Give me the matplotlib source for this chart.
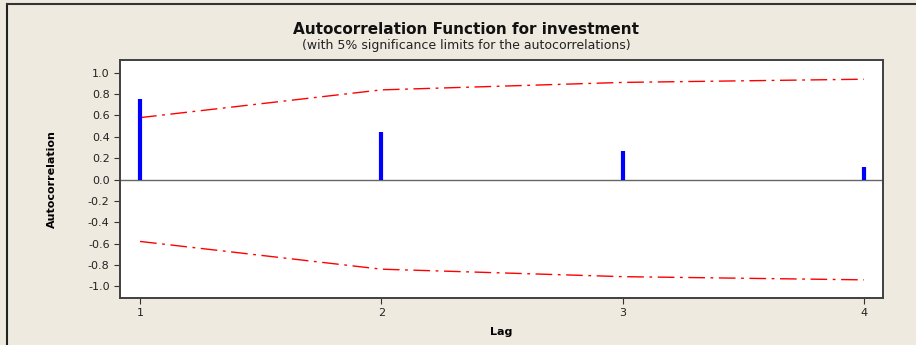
import matplotlib
matplotlib.use('Agg')
import matplotlib.pyplot as plt
from matplotlib.lines import Line2D

# data
lags = [1, 2, 3, 4]
acf = [0.75, 0.45, 0.27, 0.12]
upper_lim = [0.58, 0.84, 0.91, 0.94]
lower_lim = [-0.58, -0.84, -0.91, -0.94]
yticks = [1.0, 0.8, 0.6, 0.4, 0.2, 0.0, -0.2, -0.4, -0.6, -0.8, -1.0]

C_BG = '#EEEAE0'
C_AX = '#404040'

plt.rcParams['font.family'] = ['DejaVu Sans']

fig = plt.figure(figsize=(9.16, 3.45), dpi=100)
fig.patch.set_facecolor(C_BG)

# figure border (only top/left visible in the crop)
fig.add_artist(Line2D([7 / 916, 7 / 916], [0.0, 1 - 4 / 345], transform=fig.transFigure,
                      color='#222222', lw=1.5))
fig.add_artist(Line2D([7 / 916, 1.0], [1 - 4 / 345, 1 - 4 / 345], transform=fig.transFigure,
                      color='#333333', lw=1.5))

ax = fig.add_axes([120 / 916, 1 - 298 / 345, 763 / 916, 238 / 345])
ax.set_facecolor('white')

ax.axhline(0, color='#666666', lw=1.0, zorder=1)
ax.vlines(lags, 0, acf, color='#0000FF', lw=3, zorder=3)
ax.plot(lags, upper_lim, color='#FF0000', lw=1.0, ls='-.', dashes=(12, 4, 2, 4), zorder=2)
ax.plot(lags, lower_lim, color='#FF0000', lw=1.0, ls='-.', dashes=(12, 4, 2, 4), zorder=2)

ax.set_xlim(0.917, 4.079)
ax.set_ylim(-1.11, 1.12)
ax.set_xticks(lags)
ax.set_xticklabels([str(l) for l in lags], fontsize=8)
ax.set_yticks(yticks)
ax.set_yticklabels(['%.1f' % v for v in yticks], fontsize=8)
ax.tick_params(direction='out', length=4, width=0.8, color='#333333', labelcolor='#222222')
for s in ax.spines.values():
    s.set_edgecolor(C_AX)
    s.set_linewidth(1.4)

ax.set_xlabel('Lag', fontsize=8, fontweight='bold', labelpad=6)
ax.set_ylabel('Autocorrelation', fontsize=8, fontweight='bold', labelpad=22)

fig.text(466 / 916, 1 - 30 / 345, 'Autocorrelation Function for investment',
         ha='center', va='center', fontsize=11, fontweight='bold', color='#111111')
fig.text(466 / 916, 1 - 45 / 345, '(with 5% significance limits for the autocorrelations)',
         ha='center', va='center', fontsize=9, color='#222222')

fig.savefig('out.png', dpi=100, facecolor=C_BG)
